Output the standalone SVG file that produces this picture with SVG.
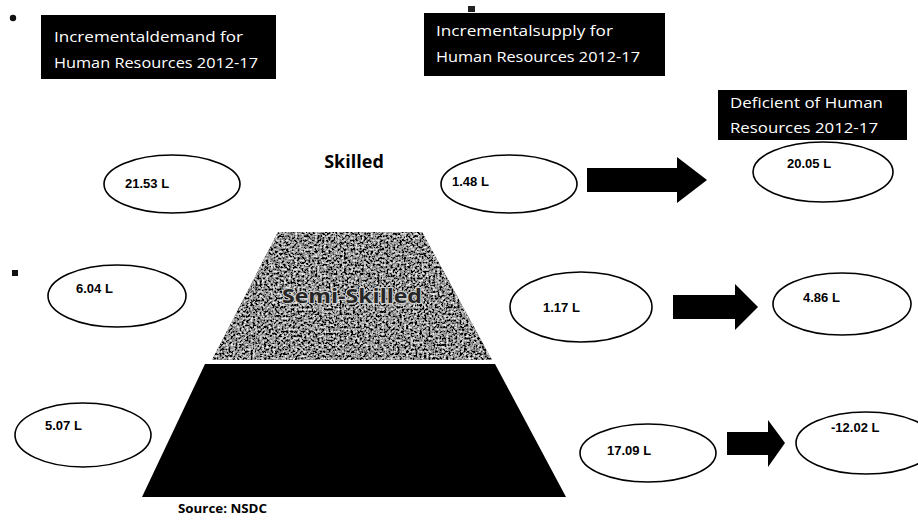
<svg xmlns="http://www.w3.org/2000/svg" width="918" height="523" viewBox="0 0 918 523">
  <style>
    .hdr { fill: #000; }
    .hdr-t { fill: #fff; font-family: "Open Sans", "Liberation Sans", sans-serif; font-size: 14px; }
    .oval { fill: #fff; stroke: #000; stroke-width: 1.6; }
    .val { fill: #000; font-family: "Liberation Sans", Arial, sans-serif; font-size: 13px; font-weight: bold; }
    .arrow { fill: #000; }
    .lvl { font-family: "Open Sans", "Liberation Sans", sans-serif; font-weight: bold; }
  </style>
  <defs>
    <!-- speckled grey stone texture for the middle tier -->
    <filter id="grain" x="0" y="0" width="100%" height="100%">
      <feTurbulence type="fractalNoise" baseFrequency="0.45" numOctaves="3" seed="11" result="noise"/>
      <feColorMatrix in="noise" type="matrix" values="2.0 0 0 0 -0.72  2.0 0 0 0 -0.72  2.0 0 0 0 -0.72  0 0 0 0 1" result="gray"/>
      <feComposite in="gray" in2="SourceGraphic" operator="in"/>
    </filter>
  </defs>

  <rect width="918" height="523" fill="#fff"/>

  <!-- bullets -->
  <circle cx="13" cy="18" r="3.2" fill="#111"/>
  <rect x="12" y="270" width="6" height="6" fill="#111"/>
  <rect x="468" y="6" width="7" height="6" fill="#222"/>

  <!-- column headers -->
  <g id="hdr-demand">
    <rect class="hdr" x="41" y="15" width="235" height="64"/>
    <text class="hdr-t" x="54" y="42" textLength="189" lengthAdjust="spacingAndGlyphs">Incrementaldemand for</text>
    <text class="hdr-t" x="54" y="68" textLength="204" lengthAdjust="spacingAndGlyphs">Human Resources 2012-17</text>
  </g>
  <g id="hdr-supply">
    <rect class="hdr" x="424" y="13" width="241" height="63"/>
    <text class="hdr-t" x="436" y="36" textLength="177" lengthAdjust="spacingAndGlyphs">Incrementalsupply for</text>
    <text class="hdr-t" x="436" y="62" textLength="204" lengthAdjust="spacingAndGlyphs">Human Resources 2012-17</text>
  </g>
  <g id="hdr-deficit">
    <rect class="hdr" x="718" y="90" width="189" height="50"/>
    <text class="hdr-t" x="730" y="108" textLength="153" lengthAdjust="spacingAndGlyphs">Deficient of Human</text>
    <text class="hdr-t" x="730" y="133" textLength="148" lengthAdjust="spacingAndGlyphs">Resources 2012-17</text>
  </g>

  <!-- pyramid -->
  <g id="pyr-semi">
    <polygon points="278,232 422,232 492,360 212,360" fill="#6e6e6e"/>
    <polygon points="278,232 422,232 492,360 212,360" fill="#6e6e6e" filter="url(#grain)"/>
    <text class="lvl" x="352" y="303" font-size="20" fill="#262626" stroke="#cfcfcf" stroke-width="2" paint-order="stroke" text-anchor="middle" textLength="140" lengthAdjust="spacingAndGlyphs">Semi-Skilled</text>
  </g>
  <g id="pyr-unskilled">
    <polygon points="205,364 495,364 566,497 142,497" fill="#000"/>
  </g>
  <g id="lbl-skilled">
    <text class="lvl" x="354" y="168" font-size="18" fill="#000" text-anchor="middle">Skilled</text>
  </g>

  <!-- demand values -->
  <g id="d-skilled">
    <ellipse class="oval" cx="172" cy="184" rx="68" ry="29"/>
    <text class="val" x="125" y="188">21.53 L</text>
  </g>
  <g id="d-semi">
    <ellipse class="oval" cx="117" cy="296" rx="69" ry="31"/>
    <text class="val" x="76" y="293">6.04 L</text>
  </g>
  <g id="d-unskilled">
    <ellipse class="oval" cx="83" cy="435" rx="68" ry="32"/>
    <text class="val" x="45" y="430">5.07 L</text>
  </g>

  <!-- supply values -->
  <g id="s-skilled">
    <ellipse class="oval" cx="509" cy="184" rx="68" ry="29"/>
    <text class="val" x="452" y="186">1.48 L</text>
  </g>
  <g id="s-semi">
    <ellipse class="oval" cx="581" cy="307" rx="71" ry="35"/>
    <text class="val" x="543" y="312">1.17 L</text>
  </g>
  <g id="s-unskilled">
    <ellipse class="oval" cx="648" cy="453" rx="68" ry="29"/>
    <text class="val" x="607" y="455">17.09 L</text>
  </g>

  <!-- deficit values -->
  <g id="g-skilled">
    <ellipse class="oval" cx="823" cy="172" rx="70" ry="30"/>
    <text class="val" x="787" y="168">20.05 L</text>
  </g>
  <g id="g-semi">
    <ellipse class="oval" cx="842" cy="304" rx="69" ry="31"/>
    <text class="val" x="803" y="302">4.86 L</text>
  </g>
  <g id="g-unskilled">
    <ellipse class="oval" cx="866" cy="443" rx="70" ry="31"/>
    <text class="val" x="831" y="432">-12.02 L</text>
  </g>

  <!-- connectors: block arrows supply -> deficit -->
  <g id="connectors">
    <polygon class="arrow" points="587,168 677,168 677,157 707,180 677,203 677,192 587,192"/>
    <polygon class="arrow" points="673,295 735,295 735,284 758,307 735,330 735,319 673,319"/>
    <polygon class="arrow" points="727,432 768,432 768,420 785,443 768,467 768,455 727,455"/>
  </g>

  <text x="178" y="513" font-family="'Open Sans', 'Liberation Sans', sans-serif" font-size="12" font-weight="bold" fill="#000" textLength="89" lengthAdjust="spacingAndGlyphs">Source: NSDC</text>
</svg>
